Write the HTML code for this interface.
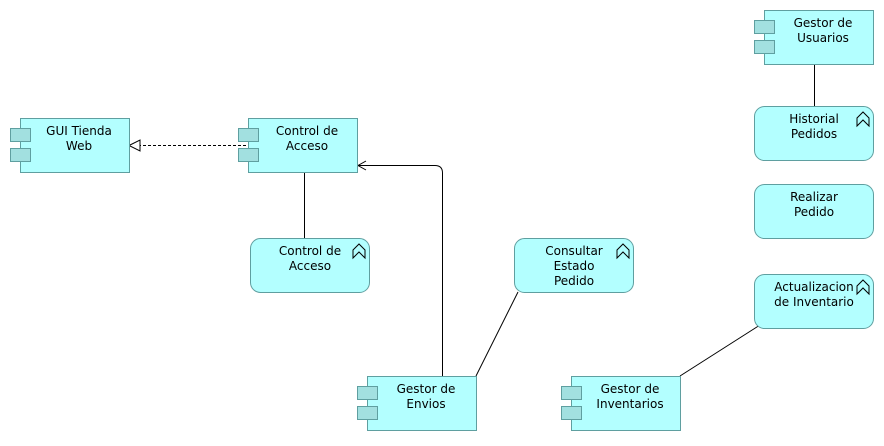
<!DOCTYPE html>
<html><head><meta charset="utf-8"><style>
body{margin:0;background:#fff;width:884px;height:441px;overflow:hidden}
svg text{font-family:"DejaVu Sans","Liberation Sans",sans-serif;font-size:12px;fill:#000;text-anchor:middle}
</style></head><body>
<svg width="884" height="441" xmlns="http://www.w3.org/2000/svg">
<defs>
<g id="tabs"><rect x="0" y="0" width="20" height="13" fill="#a2e0e0" stroke="#5f9fa0"/><rect x="0" y="20" width="20" height="13" fill="#a2e0e0" stroke="#5f9fa0"/></g>
<path id="fn" d="M0,6 L6,0 L12,6 L12,14 L6,8 L0,14 Z" fill="none" stroke="#000" stroke-width="1"/>
</defs>
<g stroke="#000" fill="none" stroke-width="1">
<line x1="133" y1="145.5" x2="248" y2="145.5" stroke-dasharray="3,2"/>
<path d="M129,145.5 L140,140 L140,151 Z" fill="#fff"/>
<line x1="304.5" y1="172" x2="304.5" y2="238"/>
<path d="M442.5,376 L442.5,173 Q442.5,165.5 435,165.5 L358,165.5"/>
<path d="M366,161 L358,165.5 L366,170"/>
<line x1="476" y1="376" x2="518" y2="292"/>
<line x1="680" y1="376" x2="760" y2="325"/>
<line x1="814.5" y1="64" x2="814.5" y2="106"/>
</g>
<g fill="#b3ffff" stroke="#5f9fa0">
<rect x="20.5" y="118.5" width="109" height="54"/>
<rect x="248.5" y="118.5" width="109" height="54"/>
<rect x="764.5" y="10.5" width="109" height="54"/>
<rect x="367.5" y="376.5" width="109" height="54"/>
<rect x="571.5" y="376.5" width="109" height="54"/>
<rect x="250.5" y="238.5" width="119" height="54" rx="10"/>
<rect x="514.5" y="238.5" width="119" height="54" rx="10"/>
<rect x="754.5" y="106.5" width="119" height="54" rx="10"/>
<rect x="754.5" y="184.5" width="119" height="54" rx="10"/>
<rect x="754.5" y="274.5" width="119" height="54" rx="10"/>
</g>
<use href="#tabs" x="10.5" y="128.5"/>
<use href="#tabs" x="238.5" y="128.5"/>
<use href="#tabs" x="754.5" y="20.5"/>
<use href="#tabs" x="357.5" y="386.5"/>
<use href="#tabs" x="561.5" y="386.5"/>
<use href="#fn" x="353" y="244"/>
<use href="#fn" x="617" y="244"/>
<use href="#fn" x="857" y="112"/>
<use href="#fn" x="857" y="280"/>
<text x="79" y="135">GUI Tienda</text><text x="79" y="150">Web</text>
<text x="307" y="135">Control de</text><text x="307" y="150">Acceso</text>
<text x="823" y="27">Gestor de</text><text x="823" y="42">Usuarios</text>
<text x="426" y="393">Gestor de</text><text x="426" y="408">Envios</text>
<text x="630" y="393">Gestor de</text><text x="630" y="408">Inventarios</text>
<text x="310" y="255">Control de</text><text x="310" y="270">Acceso</text>
<text x="574" y="255">Consultar</text><text x="574" y="270">Estado</text><text x="574" y="285">Pedido</text>
<text x="814" y="123">Historial</text><text x="814" y="138">Pedidos</text>
<text x="814" y="201">Realizar</text><text x="814" y="216">Pedido</text>
<text x="814" y="291">Actualizacion</text><text x="814" y="306">de Inventario</text>
</svg>
</body></html>
